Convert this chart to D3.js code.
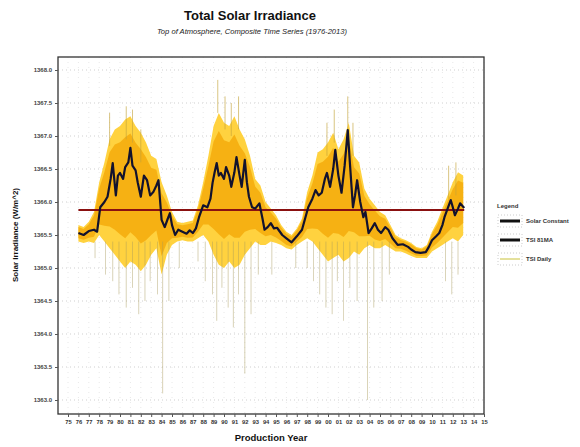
<!DOCTYPE html>
<html>
<head>
<meta charset="utf-8">
<script src="https://cdn.jsdelivr.net/npm/d3@7"></script>
<style>
  body { margin: 0; background: #fff; }
  svg { display: block; font-family: "Liberation Sans", Arial, sans-serif; }
</style>
</head>
<body>
<svg id="chart" width="580" height="447"></svg>
<script>
// 81-day moving average (year, W/m^2)
const maYears = [1976.0,1976.5,1977.0,1977.5,1977.8,1978.1,1978.5,1978.8,1979.1,1979.3,1979.6,1979.8,1980.0,1980.3,1980.5,1980.8,1981.0,1981.2,1981.5,1981.7,1982.0,1982.3,1982.6,1982.9,1983.2,1983.5,1983.7,1984.0,1984.3,1984.6,1984.8,1985.0,1985.3,1985.6,1986.0,1986.4,1986.7,1987.0,1987.3,1987.6,1988.0,1988.4,1988.7,1988.9,1989.1,1989.3,1989.5,1989.7,1990.0,1990.2,1990.5,1990.7,1991.0,1991.2,1991.5,1991.7,1992.0,1992.2,1992.4,1992.7,1993.0,1993.4,1993.7,1993.9,1994.2,1994.5,1994.8,1995.1,1995.6,1996.0,1996.5,1997.0,1997.5,1997.8,1998.1,1998.5,1998.8,1999.1,1999.4,1999.7,1999.9,2000.2,2000.5,2000.7,2001.0,2001.3,2001.6,2001.9,2002.1,2002.4,2002.6,2002.8,2003.1,2003.4,2003.6,2003.9,2004.2,2004.5,2004.8,2005.1,2005.5,2005.8,2006.2,2006.7,2007.2,2007.7,2008.0,2008.4,2008.9,2009.4,2009.7,2010.0,2010.4,2010.7,2011.0,2011.2,2011.5,2011.8,2012.0,2012.2,2012.5,2012.7,2013.1];
const maValues = [1365.53,1365.50,1365.56,1365.58,1365.55,1365.92,1366.00,1366.08,1366.35,1366.59,1366.10,1366.40,1366.44,1366.35,1366.53,1366.60,1366.82,1366.55,1366.48,1366.30,1366.08,1366.40,1366.33,1366.10,1366.15,1366.25,1366.33,1365.73,1365.62,1365.75,1365.83,1365.65,1365.50,1365.58,1365.55,1365.52,1365.57,1365.53,1365.60,1365.77,1365.95,1365.92,1366.05,1366.29,1366.45,1366.59,1366.40,1366.44,1366.35,1366.53,1366.40,1366.23,1366.45,1366.68,1366.40,1366.23,1366.64,1366.30,1366.08,1365.92,1365.90,1365.98,1365.75,1365.58,1365.62,1365.68,1365.60,1365.61,1365.50,1365.45,1365.39,1365.48,1365.58,1365.75,1365.92,1366.05,1366.18,1366.10,1366.14,1366.35,1366.44,1366.23,1366.50,1366.79,1366.40,1366.14,1366.55,1367.09,1366.60,1365.92,1366.10,1366.33,1366.00,1365.77,1365.85,1365.53,1365.60,1365.68,1365.58,1365.53,1365.62,1365.58,1365.45,1365.35,1365.36,1365.32,1365.28,1365.24,1365.23,1365.24,1365.32,1365.42,1365.48,1365.53,1365.65,1365.77,1365.90,1366.03,1365.92,1365.80,1365.90,1365.98,1365.91];

// daily band envelope
const dailyYears = [1976.0,1976.5,1977.0,1977.5,1978.0,1978.5,1979.0,1979.5,1980.0,1980.5,1981.0,1981.5,1982.0,1982.5,1983.0,1983.5,1984.0,1984.5,1985.0,1985.5,1986.0,1986.5,1987.0,1987.5,1988.0,1988.5,1989.0,1989.5,1990.0,1990.5,1991.0,1991.5,1992.0,1992.5,1993.0,1993.5,1994.0,1994.5,1995.0,1995.5,1996.0,1996.5,1997.0,1997.5,1998.0,1998.5,1999.0,1999.5,2000.0,2000.5,2001.0,2001.5,2002.0,2002.5,2003.0,2003.5,2004.0,2004.5,2005.0,2005.5,2006.0,2006.5,2007.0,2007.5,2008.0,2008.5,2009.0,2009.5,2010.0,2010.5,2011.0,2011.5,2012.0,2012.5,2013.0];
const dailyHigh = [1365.65,1365.62,1365.70,1365.85,1366.30,1366.60,1366.95,1367.10,1367.15,1367.25,1367.30,1367.15,1367.05,1366.90,1366.70,1366.65,1366.30,1366.10,1365.85,1365.70,1365.68,1365.70,1365.72,1365.95,1366.30,1366.70,1367.15,1367.35,1367.20,1367.15,1367.30,1367.10,1366.95,1366.70,1366.35,1366.25,1366.00,1365.90,1365.80,1365.65,1365.55,1365.50,1365.60,1365.75,1366.15,1366.40,1366.75,1366.80,1366.90,1367.05,1366.80,1366.95,1367.20,1366.70,1366.60,1366.20,1366.05,1365.95,1365.85,1365.80,1365.65,1365.50,1365.45,1365.42,1365.38,1365.32,1365.30,1365.35,1365.55,1365.70,1365.90,1366.10,1366.30,1366.45,1366.40];
const dailyLow = [1365.40,1365.38,1365.40,1365.38,1365.50,1365.40,1365.30,1365.20,1365.10,1365.00,1365.10,1365.05,1364.95,1365.05,1365.20,1365.30,1364.90,1365.20,1365.35,1365.40,1365.42,1365.40,1365.40,1365.45,1365.50,1365.40,1365.20,1365.05,1365.00,1365.10,1365.00,1365.05,1365.20,1365.30,1365.40,1365.35,1365.35,1365.40,1365.38,1365.35,1365.30,1365.28,1365.35,1365.40,1365.45,1365.40,1365.30,1365.20,1365.10,1365.15,1365.20,1365.10,1365.15,1365.25,1365.20,1365.30,1365.35,1365.30,1365.30,1365.35,1365.30,1365.25,1365.25,1365.22,1365.18,1365.15,1365.15,1365.15,1365.25,1365.30,1365.35,1365.40,1365.45,1365.40,1365.50];

// isolated daily dips and peaks
const dipYears = [1977.6,1978.6,1979.3,1979.9,1980.6,1981.2,1981.8,1982.4,1982.9,1983.6,1984.1,1984.7,1985.7,1987.5,1988.2,1988.9,1989.3,1989.8,1990.4,1990.9,1991.4,1992.0,1992.6,1993.3,1994.6,1996.9,1998.0,1998.6,1999.2,1999.8,2000.4,2000.9,2001.5,2002.1,2002.8,2003.8,2004.4,2005.2,2005.9,2011.3,2011.9,2012.5];
const dipValues = [1365.15,1364.90,1364.80,1364.60,1364.40,1364.70,1364.30,1364.50,1364.80,1364.60,1363.10,1364.50,1365.00,1365.10,1364.80,1364.60,1364.20,1364.70,1364.40,1364.10,1364.60,1363.40,1364.30,1364.90,1364.90,1365.00,1365.00,1364.80,1364.60,1364.40,1364.30,1364.80,1364.20,1364.70,1364.50,1363.00,1364.40,1364.50,1364.90,1364.80,1364.60,1364.90];
const peakYears = [1979.0,1980.6,1981.2,1982.0,1989.4,1990.1,1990.7,1991.4,1999.9,2000.6,2001.9,2002.4,2011.6,2012.3];
const peakValues = [1367.35,1367.45,1367.40,1367.10,1367.85,1367.60,1367.50,1367.60,1367.20,1367.40,1367.60,1367.20,1366.55,1366.60];

const solarConstant = 1365.88;
const constStart = 1976.0, constEnd = 2013.1;

const yTicks = [1363.0,1363.5,1364.0,1364.5,1365.0,1365.5,1366.0,1366.5,1367.0,1367.5,1368.0];
const xTicks = d3.range(1975, 2016);

const legendItems = [
  { label: "Solar Constant", color: "#111", width: 3 },
  { label: "TSI 81MA", color: "#111", width: 3 },
  { label: "TSI Daily", color: "#c9c23a", width: 1 }
];

const svg = d3.select("#chart");

const plot = { left: 58, right: 484, top: 57, bottom: 414 };

const x = d3.scaleLinear().domain([1975, 2015]).range([68, 484]);
const y = d3.scaleLinear().domain([1363, 1368]).range([400, 70]);

// gridlines
svg.append("g")
    .selectAll("line")
    .data(yTicks)
    .enter().append("line")
    .attr("x1", plot.left).attr("x2", plot.right)
    .attr("y1", d => y(d)).attr("y2", d => y(d))
    .attr("stroke", "#cfcfcf")
    .attr("stroke-dasharray", "1,3");

svg.append("g")
    .selectAll("line")
    .data(xTicks)
    .enter().append("line")
    .attr("x1", d => x(d)).attr("x2", d => x(d))
    .attr("y1", plot.top).attr("y2", plot.bottom)
    .attr("stroke", "#e8e8e8")
    .attr("stroke-dasharray", "1,4");

// daily band
const band = dailyYears.map((d, i) => ({ yr: d, hi: dailyHigh[i], lo: dailyLow[i] }));

svg.append("path")
    .datum(band)
    .attr("fill", "#ffd23f")
    .attr("d", d3.area().x(d => x(d.yr)).y0(d => y(d.lo)).y1(d => y(d.hi)));

svg.append("path")
    .datum(band)
    .attr("fill", "#f5ac0c")
    .attr("opacity", 0.85)
    .attr("d", d3.area().x(d => x(d.yr))
        .y0(d => y(d.lo + (d.hi - d.lo) * 0.2))
        .y1(d => y(d.hi - (d.hi - d.lo) * 0.12)));

// dips and peaks
svg.append("g")
    .selectAll("line")
    .data(dipYears.map((d, i) => ({ yr: d, v: dipValues[i] })))
    .enter().append("line")
    .attr("x1", d => x(d.yr)).attr("x2", d => x(d.yr))
    .attr("y1", d => y(1365.4)).attr("y2", d => y(d.v))
    .attr("stroke", "#a99c5c")
    .attr("stroke-width", 0.8)
    .attr("opacity", 0.55);

svg.append("g")
    .selectAll("line")
    .data(peakYears.map((d, i) => ({ yr: d, v: peakValues[i] })))
    .enter().append("line")
    .attr("x1", d => x(d.yr)).attr("x2", d => x(d.yr))
    .attr("y1", d => y(d.v - 0.5)).attr("y2", d => y(d.v))
    .attr("stroke", "#c4a43a")
    .attr("stroke-width", 0.9)
    .attr("opacity", 0.7);

// solar constant
svg.append("line")
    .attr("x1", x(constStart)).attr("x2", x(constEnd))
    .attr("y1", y(solarConstant)).attr("y2", y(solarConstant))
    .attr("stroke", "#8a1010")
    .attr("stroke-width", 2);

// 81-day MA
svg.append("path")
    .datum(maYears.map((d, i) => ({ yr: d, v: maValues[i] })))
    .attr("fill", "none")
    .attr("stroke", "#12122e")
    .attr("stroke-width", 2.2)
    .attr("stroke-linejoin", "round")
    .attr("d", d3.line().x(d => x(d.yr)).y(d => y(d.v)));

// frame
svg.append("rect")
    .attr("x", plot.left).attr("y", plot.top)
    .attr("width", plot.right - plot.left).attr("height", plot.bottom - plot.top)
    .attr("fill", "none")
    .attr("stroke", "#333")
    .attr("stroke-width", 1.3);

// axes
const yAxis = svg.append("g")
    .attr("transform", `translate(${plot.left},0)`)
    .call(d3.axisLeft(y).tickValues(yTicks).tickFormat(d3.format(".1f")).tickSize(3));
yAxis.select(".domain").remove();
yAxis.selectAll("text")
    .attr("font-size", "6px")
    .attr("font-weight", "bold")
    .attr("fill", "#444");
yAxis.selectAll("line").attr("stroke", "#555");

const xAxis = svg.append("g")
    .attr("transform", `translate(0,${plot.bottom})`)
    .call(d3.axisBottom(x).tickValues(xTicks).tickFormat(d => String(d % 100).padStart(2, "0")).tickSize(3));
xAxis.select(".domain").remove();
xAxis.selectAll("text")
    .attr("font-size", "5.8px")
    .attr("font-weight", "bold")
    .attr("fill", "#333");
xAxis.selectAll("line").attr("stroke", "#555");

// titles
svg.append("text")
    .attr("x", 250).attr("y", 20)
    .attr("text-anchor", "middle")
    .attr("font-size", "13px")
    .attr("font-weight", "bold")
    .attr("fill", "#111")
    .text("Total Solar Irradiance");

svg.append("text")
    .attr("x", 252).attr("y", 34)
    .attr("text-anchor", "middle")
    .attr("font-size", "7.6px")
    .attr("font-style", "italic")
    .attr("fill", "#222")
    .text("Top of Atmosphere, Composite Time Series (1976-2013)");

svg.append("text")
    .attr("x", 271).attr("y", 441)
    .attr("text-anchor", "middle")
    .attr("font-size", "9.5px")
    .attr("font-weight", "bold")
    .attr("fill", "#111")
    .text("Production Year");

svg.append("text")
    .attr("transform", "translate(18,235) rotate(-90)")
    .attr("text-anchor", "middle")
    .attr("font-size", "8px")
    .attr("font-weight", "bold")
    .attr("fill", "#111")
    .text("Solar Irradiance (W/m^2)");

// legend
const legend = svg.append("g").attr("transform", "translate(497,208)");

legend.append("text")
    .attr("x", 0).attr("y", 0)
    .attr("font-size", "6px")
    .attr("font-weight", "bold")
    .attr("fill", "#333")
    .text("Legend");

const item = legend.selectAll(".legend-item")
    .data(legendItems)
    .enter().append("g")
    .attr("class", "legend-item")
    .attr("transform", (d, i) => `translate(0, ${13 + i * 19})`);

item.append("rect")
    .attr("x", 1).attr("y", -6)
    .attr("width", 24).attr("height", 12)
    .attr("fill", "none")
    .attr("stroke", "#ccc")
    .attr("stroke-dasharray", "1,2");

item.append("line")
    .attr("x1", 3).attr("x2", 23)
    .attr("stroke", d => d.color)
    .attr("stroke-width", d => d.width);

item.append("text")
    .attr("x", 29)
    .attr("dy", "0.35em")
    .attr("font-size", "6px")
    .attr("font-weight", "bold")
    .attr("fill", "#333")
    .text(d => d.label);
</script>
</body>
</html>
